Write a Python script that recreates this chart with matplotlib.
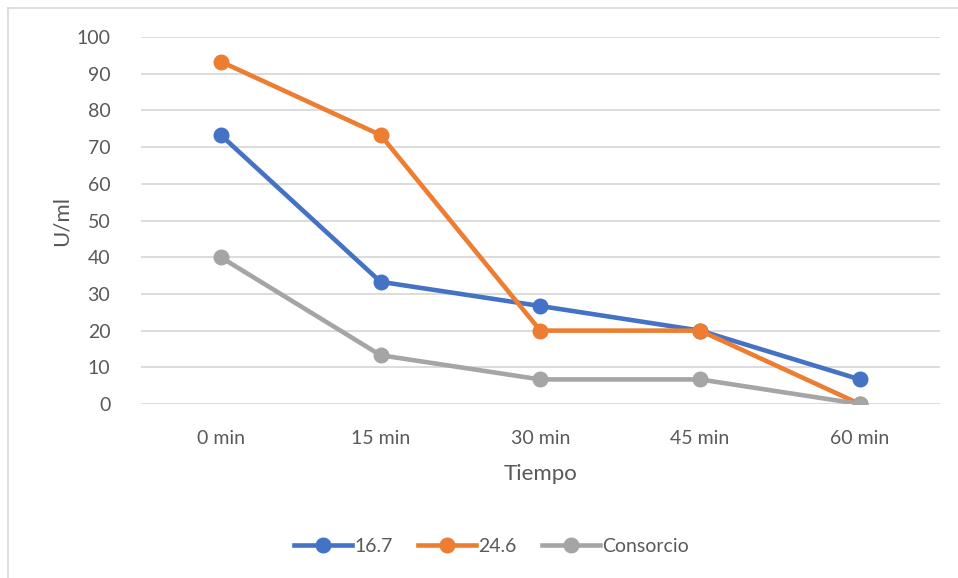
import matplotlib.pyplot as plt
from matplotlib.lines import Line2D

tiempos = ["0 min", "15 min", "30 min", "45 min", "60 min"]
serie_16_7 = [73.3, 33.3, 26.7, 20.0, 6.7]
serie_24_6 = [93.3, 73.3, 20.0, 20.0, 0.0]
consorcio = [40.0, 13.3, 6.7, 6.7, 0.0]

plt.rcParams['font.family'] = ['Lato', 'DejaVu Sans']
texto = "#595959"

fig = plt.figure(figsize=(9.58, 5.78), dpi=100)
ax = fig.add_axes([0.147, 0.301, 0.834, 0.635])

x = range(len(tiempos))
ax.plot(x, serie_16_7, color="#4472C4", marker="o", markersize=10.5, linewidth=3.3, label="16.7", zorder=3)
ax.plot(x, serie_24_6, color="#ED7D31", marker="o", markersize=10.5, linewidth=3.3, label="24.6", zorder=3)
ax.plot(x, consorcio, color="#A5A5A5", marker="o", markersize=10.5, linewidth=3.3, label="Consorcio", zorder=3)

ax.set_xlim(-0.5, 4.5)
ax.set_ylim(0, 100)
ax.set_yticks(range(0, 101, 10))
ax.set_xticks(list(x))
ax.set_xticklabels(tiempos)
ax.grid(axis="y", color="#D9D9D9", linewidth=1.3)
ax.set_axisbelow(True)
for s in ax.spines.values():
    s.set_visible(False)
ax.tick_params(length=0, labelsize=14, labelcolor=texto)
ax.tick_params(axis="y", pad=22)
ax.tick_params(axis="x", pad=19)

ax.set_xlabel("Tiempo", fontsize=16, color=texto, labelpad=12)
ax.set_ylabel("U/ml", fontsize=16, color=texto, labelpad=3)

fig.legend(*ax.get_legend_handles_labels(), loc="center",
           bbox_to_anchor=(0.513, 1 - 546 / 578), ncol=3, frameon=False,
           fontsize=14, labelcolor=texto, handlelength=3.0, handletextpad=0.1,
           columnspacing=1.3)

# chart frame
fig.add_artist(Line2D([8 / 958, 1], [1 - 8 / 578] * 2, color="#D9D9D9", linewidth=1.2))
fig.add_artist(Line2D([8 / 958] * 2, [0, 1 - 8 / 578], color="#D9D9D9", linewidth=1.2))

fig.savefig("out.png", dpi=100)
